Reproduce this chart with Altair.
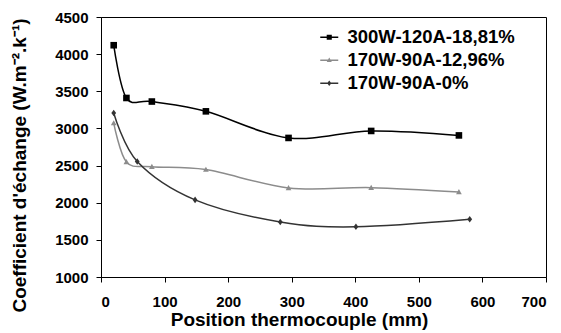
import altair as alt
import pandas as pd

# ---- data ----
series_names = ["300W-120A-18,81%", "170W-90A-12,96%", "170W-90A-0%"]

x_s1 = [20, 40, 80, 165, 295, 425, 563]
y_s1 = [4120, 3410, 3362, 3230, 2872, 2966, 2906]

x_s2 = [20, 40, 80, 165, 295, 425, 563]
y_s2 = [3072, 2549, 2485, 2446, 2199, 2203, 2145]

x_s3 = [20, 57, 148, 282, 401, 580]
y_s3 = [3208, 2555, 2038, 1741, 1676, 1777]

x_ticks = [0, 100, 200, 300, 400, 500, 600, 700]
y_ticks = [1000, 1500, 2000, 2500, 3000, 3500, 4000, 4500]

# ---- styles ----
colors = ["#000000", "#8c8c8c", "#333333"]
marker_paths = [
    "M-1.1,-1.1L1.1,-1.1L1.1,1.1L-1.1,1.1Z",
    "M0,-0.95L0.95,0.75L-0.95,0.75Z",
    "M0,-1.1L0.8,0L0,1.1L-0.8,0Z",
]
line_bar = "M-3,-0.22L3,-0.22L3,0.22L-3,0.22Z"
legend_paths = [
    line_bar + "M-0.85,-0.85L0.85,-0.85L0.85,0.85L-0.85,0.85Z",
    line_bar + "M0,-0.9L0.85,0.6L-0.85,0.6Z",
    line_bar + "M0,-0.95L0.7,0L0,0.95L-0.7,0Z",
]

rows = []
for name, xs, ys, mp in zip(series_names, [x_s1, x_s2, x_s3], [y_s1, y_s2, y_s3], marker_paths):
    for i, (xv, yv) in enumerate(zip(xs, ys)):
        rows.append({"series": name, "x": xv, "y": yv, "order": i, "marker": mp})
df = pd.DataFrame(rows)

FONT = "Liberation Sans"

xenc = alt.X("x:Q", scale=alt.Scale(domain=[0, 700], nice=False),
             axis=alt.Axis(values=x_ticks, format="d", title="Position thermocouple (mm)",
                           titleX=198, titleY=48, titleBaseline="alphabetic",
                           titleAlign="center"))
yenc = alt.Y("y:Q", scale=alt.Scale(domain=[1000, 4500], nice=False, zero=False),
             axis=alt.Axis(values=y_ticks, format="d",
                           title="Coefficient d'échange (W.m⁻².k⁻¹)",
                           titleX=-82, titleY=148, titleAngle=-90,
                           titleAlign="center", titleBaseline="middle"))

color_scale = alt.Scale(domain=series_names, range=colors)

leg = alt.Legend(
    title=None, orient="none", legendX=219, legendY=11,
    labelFont=FONT, labelFontSize=18.5, labelFontWeight="bold", labelColor="#000",
    symbolSize=36, labelOffset=9, rowPadding=4, padding=0,
    symbolStrokeWidth=0, symbolOpacity=1, labelLimit=400,
)

lines = alt.Chart(df).mark_line(interpolate="cardinal", strokeWidth=1.5).encode(
    x=xenc, y=yenc,
    color=alt.Color("series:N", scale=color_scale, legend=leg),
    order="order:Q",
)

points = alt.Chart(df).mark_point(filled=True, opacity=1, size=36, strokeWidth=0).encode(
    x=xenc, y=yenc,
    color=alt.Color("series:N", scale=color_scale, legend=leg),
    shape=alt.Shape("marker:N", scale=None),
)

legend_layer = alt.Chart(df).mark_point(
    filled=True, opacity=0, size=36, strokeWidth=0
).encode(
    x=xenc, y=yenc,
    color=alt.Color("series:N", scale=color_scale, legend=leg),
    shape=alt.Shape("series:N", scale=alt.Scale(domain=series_names, range=legend_paths), legend=leg),
)

chart = alt.layer(lines, points, legend_layer).properties(
    width=445, height=260,
    background="white",
    autosize=alt.AutoSizeParams(type="none"),
    padding={"left": 101, "top": 17, "right": 15, "bottom": 56},
).configure_view(
    stroke="#000", strokeWidth=1
).configure_axis(
    grid=False, domainColor="#000", tickColor="#000", tickSize=5,
    labelFont=FONT, labelFontSize=15, labelFontWeight="bold", labelColor="#000",
    titleFont=FONT, titleFontSize=19, titleFontWeight="bold", titleColor="#000",
).configure_axisX(
    labelPadding=12
).configure_axisY(
    labelPadding=8
)

chart.save("out.html", embed_options={"renderer": "svg", "actions": False})
